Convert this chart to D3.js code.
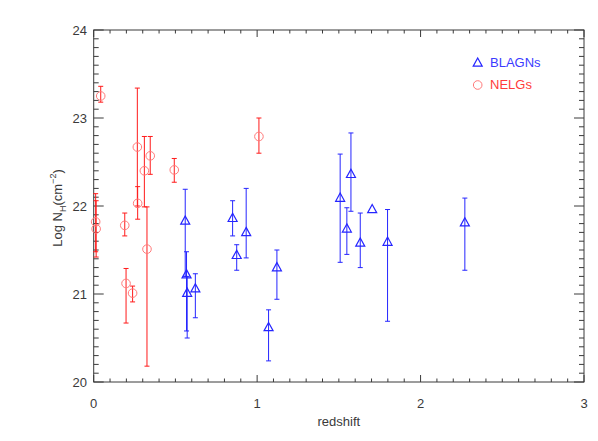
<!DOCTYPE html>
<html>
<head>
<meta charset="utf-8">
<script src="https://cdn.jsdelivr.net/npm/d3@7"></script>
<style>
  body { margin: 0; background: #fff; }
  text { font-family: "Liberation Sans", Arial, sans-serif; }
</style>
</head>
<body>
<div id="chart"></div>
<script>
const width = 598, height = 441;

// BLAGNs: redshift, log NH, upper / lower error limits (null = no bar)
var blagnZ  = [0.560, 0.568, 0.572, 0.622, 0.850, 0.875, 0.933, 1.070, 1.121, 1.508, 1.549, 1.574, 1.631, 1.704, 1.798, 2.271];
var blagnNH = [21.83, 21.22, 21.01, 21.06, 21.86, 21.44, 21.70, 20.62, 21.30, 22.09, 21.74, 22.36, 21.58, 21.96, 21.59, 21.81];
var blagnHi = [22.19, 21.48, 21.20, 21.23, 22.06, 21.56, 22.20, 20.82, 21.50, 22.59, 21.98, 22.83, 21.92, null, 21.96, 22.09];
var blagnLo = [21.20, 20.58, 20.50, 20.73, 21.66, 21.27, 21.41, 20.24, 20.94, 21.36, 21.45, 21.94, 21.30, null, 20.69, 21.27];

// NELGs
var nelgZ  = [0.012, 0.015, 0.043, 0.190, 0.198, 0.238, 0.267, 0.269, 0.310, 0.326, 0.346, 0.493, 1.011];
var nelgNH = [21.82, 21.74, 23.25, 21.78, 21.12, 21.01, 22.67, 22.03, 22.40, 21.51, 22.57, 22.41, 22.79];
var nelgHi = [22.14, 22.06, 23.36, 21.92, 21.29, 21.09, 23.34, 22.22, 22.79, 21.99, 22.79, 22.54, 23.00];
var nelgLo = [21.48, 21.42, 23.18, 21.66, 20.67, 20.91, 22.00, 21.85, 21.99, 20.18, 22.36, 22.27, 22.60];

var xTicks = [0, 1, 2, 3];
var yTicks = [20, 21, 22, 23, 24];

var blue = "#2525ff", red = "#ff1a1a", redLight = "#ff7a7a";
var axisColor = "#3a3a3a";

var x = d3.scaleLinear().domain([0, 3]).range([93.7, 584]);
var y = d3.scaleLinear().domain([20, 24]).range([382, 30]);

var svg = d3.select("#chart").append("svg")
    .attr("width", width)
    .attr("height", height);

// frame
svg.append("rect")
    .attr("x", x(0)).attr("y", y(24))
    .attr("width", x(3) - x(0)).attr("height", y(20) - y(24))
    .attr("fill", "none")
    .attr("stroke", axisColor)
    .attr("stroke-width", 1);

// minor + major ticks on all four sides
var xMinor = d3.range(0, 3.0001, 0.1);
var yMinor = d3.range(20, 24.0001, 0.1);
var ticks = svg.append("g").attr("stroke", axisColor).attr("stroke-width", 1);

xMinor.forEach(function (v) {
    var major = Math.abs(v - Math.round(v)) < 1e-6;
    var len = major ? 7 : 3.5;
    ticks.append("line").attr("x1", x(v)).attr("x2", x(v)).attr("y1", y(20)).attr("y2", y(20) - len);
    ticks.append("line").attr("x1", x(v)).attr("x2", x(v)).attr("y1", y(24)).attr("y2", y(24) + len);
});
yMinor.forEach(function (v) {
    var major = Math.abs(v - Math.round(v)) < 1e-6;
    var len = major ? 10 : 5;
    ticks.append("line").attr("y1", y(v)).attr("y2", y(v)).attr("x1", x(0)).attr("x2", x(0) + len);
    ticks.append("line").attr("y1", y(v)).attr("y2", y(v)).attr("x1", x(3)).attr("x2", x(3) - len);
});

// tick labels
svg.append("g").selectAll("text")
    .data(xTicks)
    .enter().append("text")
    .attr("x", function (d) { return x(d); })
    .attr("y", 408)
    .attr("text-anchor", "middle")
    .attr("font-size", 13)
    .attr("fill", axisColor)
    .text(function (d) { return d; });

svg.append("g").selectAll("text")
    .data(yTicks)
    .enter().append("text")
    .attr("x", 87)
    .attr("y", function (d) { return y(d) + 5; })
    .attr("text-anchor", "end")
    .attr("font-size", 13)
    .attr("fill", axisColor)
    .text(function (d) { return d; });

// axis titles
svg.append("text")
    .attr("x", x(1.5)).attr("y", 426)
    .attr("text-anchor", "middle")
    .attr("font-size", 13)
    .attr("fill", axisColor)
    .text("redshift");

var yt = svg.append("text")
    .attr("transform", "translate(62," + 208 + ") rotate(-90)")
    .attr("text-anchor", "middle")
    .attr("font-size", 13)
    .attr("fill", axisColor);
yt.append("tspan").text("Log  N");
yt.append("tspan").attr("font-size", 9).attr("dy", 4).text("H");
yt.append("tspan").attr("dy", -4).text("(cm");
yt.append("tspan").attr("font-size", 9).attr("dy", -6).text("−2");
yt.append("tspan").attr("dy", 6).text(")");

// error bars
const drawErrors = function (zs, hi, lo, color) {
    var g = svg.append("g").attr("stroke", color).attr("stroke-width", 1);
    zs.forEach(function (z, i) {
        if (hi[i] == null) return;
        var cx = x(z);
        g.append("line").attr("x1", cx).attr("x2", cx).attr("y1", y(hi[i])).attr("y2", y(lo[i]));
        g.append("line").attr("x1", cx - 2.5).attr("x2", cx + 2.5).attr("y1", y(hi[i])).attr("y2", y(hi[i]));
        g.append("line").attr("x1", cx - 2.5).attr("x2", cx + 2.5).attr("y1", y(lo[i])).attr("y2", y(lo[i]));
    });
};

drawErrors(nelgZ, nelgHi, nelgLo, red);
drawErrors(blagnZ, blagnHi, blagnLo, blue);

var triangle = "M0,-5L4.5,3.2L-4.5,3.2Z";

svg.append("g").selectAll("circle")
    .data(nelgZ)
    .enter().append("circle")
    .attr("cx", function (d) { return x(d); })
    .attr("cy", function (d, i) { return y(nelgNH[i]); })
    .attr("r", 4.3)
    .attr("fill", "none")
    .attr("stroke", redLight)
    .attr("stroke-width", 1);

svg.append("g").selectAll("path")
    .data(blagnZ)
    .enter().append("path")
    .attr("d", triangle)
    .attr("transform", function (d, i) { return "translate(" + x(d) + "," + y(blagnNH[i]) + ")"; })
    .attr("fill", "none")
    .attr("stroke", blue)
    .attr("stroke-width", 1.2);

// legend
svg.append("path")
    .attr("d", triangle)
    .attr("transform", "translate(477.7,63)")
    .attr("fill", "none")
    .attr("stroke", blue)
    .attr("stroke-width", 1.2);
svg.append("text")
    .attr("x", 490).attr("y", 66.5)
    .attr("font-size", 13)
    .attr("fill", "#3b3bff")
    .text("BLAGNs");

svg.append("circle")
    .attr("cx", 477.7).attr("cy", 85)
    .attr("r", 4.3)
    .attr("fill", "none")
    .attr("stroke", redLight);
svg.append("text")
    .attr("x", 490).attr("y", 88.5)
    .attr("font-size", 13)
    .attr("fill", "#ff3b3b")
    .text("NELGs");
</script>
</body>
</html>
